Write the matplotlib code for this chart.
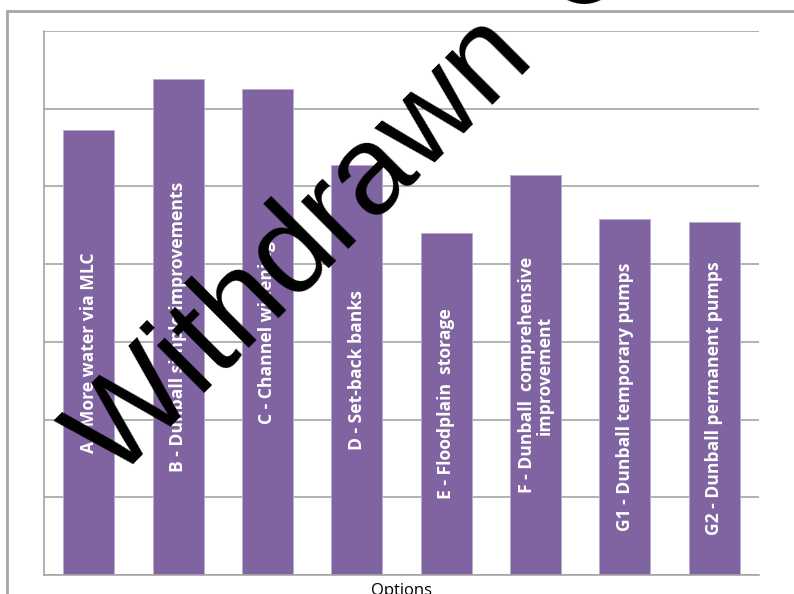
import matplotlib
matplotlib.use("Agg")
import matplotlib.pyplot as plt
from matplotlib.patches import Rectangle
import numpy as np

# options and scores (grid units, 0..7)
options = ["A - More water via MLC", "B - Dunball simple improvements",
           "C - Channel widening", "D - Set-back banks",
           "E - Floodplain  storage", "F - Dunball  comprehensive\nimprovement",
           "G1 - Dunball temporary pumps", "G2 - Dunball permanent pumps"]
scores = [5.72, 6.38, 6.25, 5.28, 4.40, 5.15, 4.58, 4.54]
x_label = "Options"
wm_words = ["Withdrawn", "Option"]

BAR = "#8064A2"
GRID = "#a6a6a6"
W, H = 794, 594

fig = plt.figure(figsize=(7.94, 5.94), dpi=100)
ax = fig.add_axes([0.0554, 0.032, 0.9005, 0.9158])

pos = list(range(len(options)))
ax.bar(pos, scores, width=0.57, color=BAR, edgecolor="#b8a9cf", linewidth=0.6, zorder=2)
ax.set_xlim(-0.5, len(options) - 0.5)
ax.set_ylim(0, 7)
ax.set_yticks(range(0, 8))
ax.yaxis.grid(True, color=GRID, linewidth=1.2, zorder=0)
ax.tick_params(left=False, bottom=False, labelleft=False, labelbottom=False)
for s in ["top", "right"]:
    ax.spines[s].set_visible(False)
for s in ["left", "bottom"]:
    ax.spines[s].set_color(GRID)
    ax.spines[s].set_linewidth(1.2)

for p, v, lab in zip(pos, scores, options):
    ax.text(p, v / 2, lab, rotation=90, ha="center", va="center",
            color="white", fontsize=12.6, fontweight="bold", family="Open Sans",
            multialignment="center", linespacing=1.0, zorder=3)

ax.text(0.5, -0.015, x_label, transform=ax.transAxes, ha="center", va="top",
        fontsize=12, family="Open Sans", color="black")

# outer chart-area border (cropped by the image edge)
fig.add_artist(Rectangle((6.5 / W, -0.05), 1.1, 1.05 - 10.5 / H,
                         transform=fig.transFigure, fill=False,
                         edgecolor=GRID, linewidth=2))

# diagonal watermark, second word runs off the top edge
wm_kw = dict(rotation=45, rotation_mode="anchor", ha="left", va="baseline",
             fontsize=91, family="Liberation Sans", color="black", zorder=10)
x0, y0 = 115, H - 482
fig.text(x0 / W, y0 / H, wm_words[0], **wm_kw)
tmp = fig.text(0, 0, wm_words[0] + " ", fontsize=91, family="Liberation Sans")
fig.canvas.draw()
adv = tmp.get_window_extent().width + 22
tmp.remove()
ang = np.deg2rad(45)
fig.text((x0 + adv * np.cos(ang)) / W, (y0 + adv * np.sin(ang)) / H, wm_words[1], **wm_kw)

fig.savefig("out.png", dpi=100)
